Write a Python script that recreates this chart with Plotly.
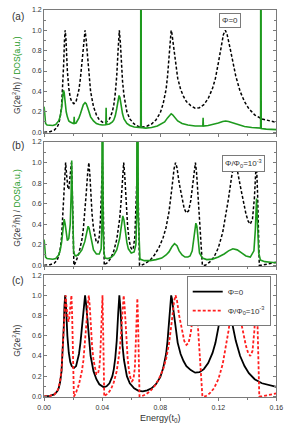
import plotly.graph_objects as go

# ---------------- data ----------------
# Conductance, Phi = 0
E_g0 = [0.000, 0.004, 0.007, 0.009, 0.010, 0.011, 0.012, 0.013, 0.0135, 0.014, 0.0145, 0.015, 0.0155, 0.016,
        0.017, 0.018, 0.019, 0.0205, 0.022, 0.023, 0.024, 0.025, 0.026, 0.027, 0.0282, 0.029, 0.030, 0.031,
        0.032, 0.034, 0.036, 0.038, 0.041, 0.043, 0.045, 0.047, 0.048, 0.049, 0.050, 0.051, 0.0518, 0.0525,
        0.053, 0.054, 0.055, 0.057, 0.059, 0.062, 0.065, 0.068, 0.071, 0.074, 0.077, 0.080, 0.082, 0.084,
        0.085, 0.086, 0.087, 0.0875, 0.088, 0.089, 0.090, 0.092, 0.094, 0.096, 0.098, 0.101, 0.104, 0.107,
        0.110, 0.113, 0.116, 0.118, 0.120, 0.122, 0.1235, 0.1248, 0.126, 0.128, 0.130, 0.132, 0.135, 0.138,
        0.141, 0.145, 0.150, 0.155, 0.160]
G0 = [0.00, 0.005, 0.02, 0.05, 0.08, 0.14, 0.25, 0.48, 0.68, 0.90, 1.00, 0.92, 0.75, 0.60,
      0.43, 0.34, 0.30, 0.28, 0.30, 0.35, 0.42, 0.53, 0.68, 0.86, 1.00, 0.90, 0.70, 0.52,
      0.40, 0.25, 0.17, 0.12, 0.09, 0.10, 0.13, 0.20, 0.27, 0.38, 0.55, 0.82, 1.00, 0.88,
      0.72, 0.50, 0.36, 0.20, 0.13, 0.08, 0.055, 0.05, 0.06, 0.08, 0.12, 0.19, 0.28, 0.42,
      0.55, 0.75, 0.93, 1.00, 0.97, 0.85, 0.72, 0.53, 0.42, 0.35, 0.30, 0.26, 0.235, 0.24,
      0.27, 0.33, 0.43, 0.53, 0.68, 0.85, 0.96, 1.00, 0.96, 0.83, 0.68, 0.55, 0.40, 0.30,
      0.23, 0.17, 0.13, 0.11, 0.095]

# Conductance, Phi/Phi0 = 1e-3
E_g1 = [0.000, 0.004, 0.007, 0.009, 0.010, 0.011, 0.012, 0.013, 0.0138, 0.0148, 0.0155, 0.0163, 0.017, 0.0177,
        0.0183, 0.0188, 0.0193, 0.0198, 0.0202, 0.0205, 0.021, 0.022, 0.024, 0.026, 0.027, 0.028, 0.029, 0.030,
        0.0308, 0.0315, 0.032, 0.033, 0.034, 0.035, 0.036, 0.037, 0.038, 0.0387, 0.0393, 0.0398, 0.0402, 0.0406,
        0.041, 0.0414, 0.042, 0.044, 0.046, 0.048, 0.050, 0.052, 0.053, 0.054, 0.0548, 0.0555, 0.0565, 0.0575,
        0.0585, 0.0595, 0.0605, 0.0615, 0.0625, 0.0632, 0.0638, 0.0642, 0.0647, 0.0652, 0.0657, 0.067, 0.070,
        0.073, 0.076, 0.079, 0.082, 0.084, 0.086, 0.088, 0.0895, 0.0905, 0.0915, 0.093, 0.095, 0.0965, 0.098,
        0.0995, 0.101, 0.1025, 0.1035, 0.1042, 0.105, 0.106, 0.107, 0.108, 0.109, 0.111, 0.114, 0.117, 0.120,
        0.123, 0.125, 0.127, 0.129, 0.1305, 0.1315, 0.133, 0.135, 0.137, 0.139, 0.1405, 0.142, 0.1435, 0.1448,
        0.1458, 0.1463, 0.1470, 0.1476, 0.1482, 0.150, 0.153, 0.156, 0.160]
G1 = [0.00, 0.005, 0.02, 0.05, 0.09, 0.15, 0.27, 0.50, 0.78, 1.00, 0.88, 0.76, 0.74, 0.83,
      0.96, 1.00, 0.80, 0.45, 0.10, 0.00, 0.01, 0.04, 0.12, 0.25, 0.35, 0.50, 0.70, 0.90,
      1.00, 0.88, 0.70, 0.50, 0.36, 0.27, 0.22, 0.22, 0.28, 0.42, 0.70, 0.95, 1.00, 0.70,
      0.25, 0.00, 0.01, 0.03, 0.07, 0.14, 0.25, 0.45, 0.62, 0.85, 1.00, 0.88, 0.60, 0.38,
      0.25, 0.18, 0.15, 0.17, 0.28, 0.50, 0.80, 0.97, 0.75, 0.35, 0.00, 0.00, 0.02,
      0.05, 0.10, 0.17, 0.27, 0.37, 0.52, 0.75, 0.94, 1.00, 0.95, 0.80, 0.64, 0.55, 0.51,
      0.53, 0.63, 0.82, 0.96, 1.00, 0.90, 0.65, 0.38, 0.15, 0.00, 0.00, 0.03, 0.08, 0.17,
      0.32, 0.47, 0.65, 0.85, 0.97, 1.00, 0.93, 0.78, 0.62, 0.50, 0.43, 0.40, 0.45, 0.65,
      0.92, 0.98, 0.70, 0.35, 0.00, 0.00, 0.01, 0.02, 0.03]

# DOS, Phi = 0
E_d0 = [0.0000, 0.0005, 0.0010, 0.002, 0.004, 0.006, 0.008, 0.009, 0.010, 0.011, 0.012, 0.0127, 0.0133, 0.0138,
        0.0145, 0.0152, 0.016, 0.017, 0.018, 0.019, 0.0200, 0.0205, 0.0207, 0.0209, 0.022, 0.023, 0.024, 0.025,
        0.026, 0.027, 0.0282, 0.029, 0.030, 0.031, 0.032, 0.034, 0.036, 0.038, 0.040, 0.0425, 0.0427, 0.0429,
        0.045, 0.047, 0.048, 0.049, 0.050, 0.051, 0.0516, 0.0522, 0.053, 0.054, 0.055, 0.057, 0.059, 0.062,
        0.0665, 0.0667, 0.0669, 0.070, 0.074, 0.078, 0.081, 0.083, 0.085, 0.0865, 0.0875, 0.0885, 0.090, 0.092,
        0.095, 0.099, 0.104, 0.1093, 0.1095, 0.1097, 0.113, 0.117, 0.120, 0.123, 0.125, 0.127, 0.130, 0.134,
        0.138, 0.143, 0.1491, 0.1493, 0.1495, 0.153, 0.160]
D0 = [0.25, 0.12, 0.085, 0.07, 0.065, 0.065, 0.075, 0.09, 0.11, 0.15, 0.23, 0.33, 0.41, 0.39,
      0.29, 0.20, 0.15, 0.11, 0.10, 0.09, 0.085, 0.085, 0.15, 0.085, 0.09, 0.11, 0.14, 0.18,
      0.23, 0.27, 0.29, 0.28, 0.24, 0.19, 0.15, 0.11, 0.085, 0.075, 0.07, 0.072, 0.24, 0.075,
      0.08, 0.10, 0.12, 0.16, 0.23, 0.32, 0.36, 0.34, 0.26, 0.18, 0.13, 0.085, 0.065, 0.05,
      0.045, 5.0, 0.045, 0.04, 0.045, 0.06, 0.08, 0.10, 0.14, 0.17, 0.18, 0.17, 0.14, 0.11,
      0.085, 0.07, 0.06, 0.06, 0.14, 0.06, 0.065, 0.075, 0.09, 0.105, 0.11, 0.105, 0.09, 0.07,
      0.055, 0.045, 0.04, 5.0, 0.035, 0.03, 0.025]

# DOS, Phi/Phi0 = 1e-3
E_d1 = [0.0000, 0.0005, 0.0010, 0.002, 0.004, 0.006, 0.008, 0.009, 0.010, 0.011, 0.012, 0.013, 0.0138, 0.0145,
        0.0152, 0.0160, 0.0170, 0.0180, 0.0186, 0.0190, 0.0194, 0.0198, 0.0203, 0.021, 0.022, 0.024, 0.026,
        0.028, 0.029, 0.0303, 0.031, 0.032, 0.033, 0.034, 0.036, 0.038, 0.0393, 0.0398, 0.0402, 0.0406, 0.0412,
        0.042, 0.044, 0.046, 0.048, 0.050, 0.052, 0.053, 0.0542, 0.055, 0.056, 0.057, 0.058, 0.060, 0.062,
        0.0632, 0.0638, 0.0643, 0.0648, 0.0654, 0.066, 0.069, 0.073, 0.077, 0.081, 0.084, 0.086, 0.088, 0.0898,
        0.0915, 0.093, 0.095, 0.097, 0.099, 0.1005, 0.102, 0.1035, 0.1045, 0.1052, 0.106, 0.107, 0.109, 0.112,
        0.116, 0.120, 0.124, 0.127, 0.130, 0.133, 0.136, 0.139, 0.142, 0.1445, 0.1455, 0.1463, 0.1470, 0.1478,
        0.149, 0.152, 0.156, 0.160]
D1 = [0.25, 0.12, 0.08, 0.065, 0.058, 0.058, 0.065, 0.08, 0.10, 0.14, 0.22, 0.35, 0.45, 0.40,
      0.29, 0.24, 0.26, 0.40, 0.70, 1.02, 0.70, 0.30, 0.14, 0.10, 0.09, 0.11, 0.15,
      0.23, 0.30, 0.38, 0.36, 0.28, 0.20, 0.15, 0.11, 0.11, 0.16, 0.40, 5.0, 0.40, 0.12,
      0.07, 0.065, 0.075, 0.10, 0.15, 0.26, 0.37, 0.48, 0.44, 0.32, 0.22, 0.16, 0.12, 0.13,
      0.20, 0.50, 5.0, 0.50, 0.12, 0.06, 0.045, 0.045, 0.055, 0.07, 0.10, 0.13, 0.18, 0.21,
      0.19, 0.14, 0.10, 0.08, 0.08, 0.09, 0.14, 0.28, 0.41, 0.38, 0.22, 0.12, 0.07, 0.055,
      0.06, 0.08, 0.11, 0.14, 0.16, 0.15, 0.12, 0.09, 0.08, 0.14, 0.35, 0.65, 0.40, 0.12,
      0.05, 0.035, 0.03, 0.025]

x_ticks = [0.00, 0.04, 0.08, 0.12, 0.16]
x_ticklabels = ["0.00", "0.04", "0.08", "0.12", "0.16"]
y_ticks = [0.0, 0.2, 0.4, 0.6, 0.8, 1.0, 1.2]
y_ticklabels = ["0.0", "0.2", "0.4", "0.6", "0.8", "1.0", "1.2"]

# ---------------- style ----------------
W, H = 292, 429
GREEN = "#1e9a1e"
RED = "#ff1e1e"
FRAME = "#7a7a7a"
TXT = "#333333"
FONT = "Liberation Sans, Arial, sans-serif"
TICKFONT = dict(size=7, color=TXT)

xdom = [39 / W, 283 / W]
panels = [(6, 131), (140, 266), (275, 399)]  # pixel top, bottom
ydoms = [[1 - b / H, 1 - t / H] for t, b in panels]

fig = go.Figure()

# panel (a)
fig.add_trace(go.Scatter(x=E_g0, y=G0, mode="lines", line=dict(color="black", width=1.5, dash="3px,2px"),
                         xaxis="x", yaxis="y", showlegend=False, hoverinfo="skip"))
fig.add_trace(go.Scatter(x=E_d0, y=D0, mode="lines", line=dict(color=GREEN, width=1.6),
                         xaxis="x", yaxis="y", showlegend=False, hoverinfo="skip"))
# panel (b)
fig.add_trace(go.Scatter(x=E_g1, y=G1, mode="lines", line=dict(color="black", width=1.5, dash="3px,2px"),
                         xaxis="x2", yaxis="y2", showlegend=False, hoverinfo="skip"))
fig.add_trace(go.Scatter(x=E_d1, y=D1, mode="lines", line=dict(color=GREEN, width=1.6),
                         xaxis="x2", yaxis="y2", showlegend=False, hoverinfo="skip"))
# panel (c)
fig.add_trace(go.Scatter(x=E_g0, y=G0, mode="lines", line=dict(color="black", width=1.8),
                         xaxis="x3", yaxis="y3", name="Φ=0", hoverinfo="skip"))
fig.add_trace(go.Scatter(x=E_g1, y=G1, mode="lines", line=dict(color=RED, width=1.8, dash="3px,2px"),
                         xaxis="x3", yaxis="y3", name="Φ/Φ<sub>0</sub>=10<sup>-3</sup>", hoverinfo="skip"))

layout = dict(
    width=W, height=H, autosize=False,
    margin=dict(l=0, r=0, t=0, b=0),
    paper_bgcolor="white", plot_bgcolor="white",
    font=dict(family=FONT, size=8, color=TXT),
    showlegend=True,
    legend=dict(x=277 / W, xanchor="right", y=1 - 276 / H, yanchor="top",
                bgcolor="white", bordercolor=FRAME, borderwidth=1,
                font=dict(size=8, color=TXT), tracegroupgap=2, itemwidth=30),
)

for i in range(3):
    xs = "" if i == 0 else str(i + 1)
    layout["xaxis" + xs] = dict(
        domain=xdom, range=[0, 0.16], anchor="y" + xs,
        tickmode="array", tickvals=x_ticks, ticktext=x_ticklabels,
        showticklabels=(i == 2), ticks="outside", ticklen=3, tickcolor=FRAME,
        ticklabeloverflow="allow",
        minor=dict(dtick=0.02, tick0=0, ticks="outside", ticklen=2, tickcolor=FRAME),
        showline=True, linecolor=FRAME, linewidth=1, mirror=True,
        showgrid=False, zeroline=False, tickfont=TICKFONT,
    )
    # top axis with inward ticks
    layout["xaxis" + str(i + 4)] = dict(
        domain=xdom, range=[0, 0.16], anchor="y" + xs, overlaying="x" + xs, side="top",
        tickmode="array", tickvals=x_ticks, showticklabels=False,
        ticks="inside", ticklen=3, tickcolor=FRAME,
        minor=dict(dtick=0.02, tick0=0, ticks="inside", ticklen=2, tickcolor=FRAME),
        showline=False, showgrid=False, zeroline=False,
    )
    layout["yaxis" + xs] = dict(
        domain=ydoms[i], range=[-0.01, 1.2], anchor="x" + xs,
        tickmode="array", tickvals=y_ticks, ticktext=y_ticklabels,
        ticks="inside", ticklen=3, tickcolor=FRAME,
        minor=dict(dtick=0.1, tick0=0, ticks="inside", ticklen=2, tickcolor=FRAME),
        showline=True, linecolor=FRAME, linewidth=1, mirror="ticks",
        showgrid=False, zeroline=False, tickfont=TICKFONT,
    )

fig.update_layout(**layout)

ann = []
# panel letters
for lab, t in zip(["(a)", "(b)", "(c)"], [13, 144, 280]):
    ann.append(dict(text=lab, x=12 / W, y=1 - t / H, xref="paper", yref="paper", showarrow=False,
                    font=dict(size=10, color=TXT), xanchor="center", yanchor="middle"))
# y titles
ytitle = 'G(2e<sup>2</sup>/h) / <span style="color:%s">DOS(a.u.)</span>' % GREEN
for t, b in panels[:2]:
    ann.append(dict(text=ytitle, x=10 / W, y=1 - ((t + b) / 2 + 4) / H, xref="paper", yref="paper",
                    showarrow=False, textangle=-90, font=dict(size=8.5, color=TXT),
                    xanchor="center", yanchor="middle"))
ann.append(dict(text="G(2e<sup>2</sup>/h)", x=10 / W, y=1 - 342 / H, xref="paper", yref="paper",
                showarrow=False, textangle=-90, font=dict(size=8.5, color=TXT),
                xanchor="center", yanchor="middle"))
# x title
ann.append(dict(text="Energy(t<sub>0</sub>)", x=161 / W, y=1 - 420 / H, xref="paper", yref="paper",
                showarrow=False, font=dict(size=9, color=TXT), xanchor="center", yanchor="middle"))
# legend-like boxes in (a) and (b)
ann.append(dict(text="Φ=0", x=234 / W, y=1 - 17 / H, xref="paper", yref="paper", showarrow=False,
                font=dict(size=8, color=TXT), bordercolor=FRAME, borderwidth=1, borderpad=2,
                bgcolor="white", xanchor="center", yanchor="middle"))
ann.append(dict(text="Φ/Φ<sub>0</sub>=10<sup>-3</sup>", x=248 / W, y=1 - 162 / H, xref="paper",
                yref="paper", showarrow=False, font=dict(size=8, color=TXT), bordercolor=FRAME,
                borderwidth=1, borderpad=2, bgcolor="white", xanchor="center", yanchor="middle"))
fig.update_layout(annotations=ann)

fig.write_html("out.html", config={"responsive": False, "displayModeBar": False},
               post_script="document.body.style.margin='0';")
